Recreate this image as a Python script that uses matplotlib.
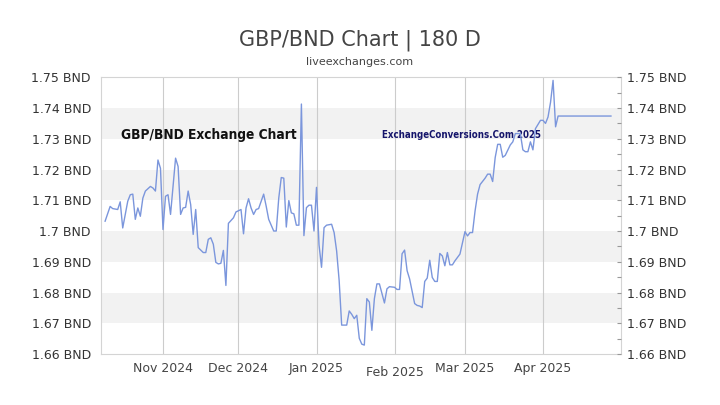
import matplotlib
matplotlib.use('Agg')
import matplotlib.pyplot as plt
import matplotlib.dates as mdates
from matplotlib.ticker import MultipleLocator, FuncFormatter
from matplotlib import font_manager
import pandas as pd

# GBP/BND daily rates (weekend points repeat)
dates = [
    '2024-10-09', '2024-10-11', '2024-10-12', '2024-10-14', '2024-10-15', '2024-10-16',
    '2024-10-18', '2024-10-19', '2024-10-20', '2024-10-21', '2024-10-22', '2024-10-23',
    '2024-10-24', '2024-10-25', '2024-10-27', '2024-10-28', '2024-10-29', '2024-10-30',
    '2024-10-31', '2024-11-01', '2024-11-02', '2024-11-03', '2024-11-04', '2024-11-06',
    '2024-11-07', '2024-11-08', '2024-11-09', '2024-11-10', '2024-11-11', '2024-11-12',
    '2024-11-13', '2024-11-14', '2024-11-15', '2024-11-17', '2024-11-18', '2024-11-19',
    '2024-11-20', '2024-11-21', '2024-11-22', '2024-11-23', '2024-11-24', '2024-11-25',
    '2024-11-26', '2024-11-27', '2024-11-29', '2024-11-30', '2024-12-02', '2024-12-03',
    '2024-12-04', '2024-12-05', '2024-12-06', '2024-12-07', '2024-12-08', '2024-12-09',
    '2024-12-11', '2024-12-12', '2024-12-13', '2024-12-15', '2024-12-16', '2024-12-17',
    '2024-12-18', '2024-12-19', '2024-12-20', '2024-12-21', '2024-12-22', '2024-12-23',
    '2024-12-24', '2024-12-25', '2024-12-26', '2024-12-27', '2024-12-28', '2024-12-29',
    '2024-12-30', '2024-12-31', '2025-01-01', '2025-01-02', '2025-01-03', '2025-01-04',
    '2025-01-05', '2025-01-07', '2025-01-08', '2025-01-09', '2025-01-10', '2025-01-11',
    '2025-01-12', '2025-01-13', '2025-01-14', '2025-01-15', '2025-01-16', '2025-01-17',
    '2025-01-18', '2025-01-19', '2025-01-20', '2025-01-21', '2025-01-22', '2025-01-23',
    '2025-01-24', '2025-01-25', '2025-01-26', '2025-01-28', '2025-01-29', '2025-01-30',
    '2025-02-01', '2025-02-02', '2025-02-03', '2025-02-04', '2025-02-05', '2025-02-06',
    '2025-02-07', '2025-02-09', '2025-02-10', '2025-02-11', '2025-02-12', '2025-02-13',
    '2025-02-14', '2025-02-15', '2025-02-16', '2025-02-17', '2025-02-18', '2025-02-19',
    '2025-02-20', '2025-02-21', '2025-02-22', '2025-02-23', '2025-02-24', '2025-02-25',
    '2025-02-27', '2025-02-28', '2025-03-01', '2025-03-02', '2025-03-03', '2025-03-04',
    '2025-03-05', '2025-03-06', '2025-03-07', '2025-03-09', '2025-03-10', '2025-03-11',
    '2025-03-12', '2025-03-13', '2025-03-14', '2025-03-15', '2025-03-16', '2025-03-17',
    '2025-03-19', '2025-03-20', '2025-03-21', '2025-03-23', '2025-03-24', '2025-03-25',
    '2025-03-26', '2025-03-27', '2025-03-28', '2025-03-29', '2025-03-31', '2025-04-01',
    '2025-04-02', '2025-04-03', '2025-04-04', '2025-04-05', '2025-04-06', '2025-04-07',
    '2025-04-28',
]
rates = [
    1.7032, 1.7080, 1.7073, 1.7070, 1.7095, 1.7010,
    1.7097, 1.7118, 1.7120, 1.7038, 1.7075, 1.7048,
    1.7107, 1.7130, 1.7145, 1.7140, 1.7130, 1.7231,
    1.7204, 1.7005, 1.7113, 1.7118, 1.7054, 1.7237,
    1.7210, 1.7054, 1.7075, 1.7077, 1.7130, 1.7086,
    1.6989, 1.7070, 1.6946, 1.6930, 1.6930, 1.6973,
    1.6978, 1.6957, 1.6898, 1.6893, 1.6895, 1.6937,
    1.6823, 1.7025, 1.7043, 1.7062, 1.7070, 1.6991,
    1.7075, 1.7105, 1.7075, 1.7054, 1.7070, 1.7073,
    1.7120, 1.7081, 1.7038, 1.7000, 1.7000, 1.7107,
    1.7174, 1.7172, 1.7013, 1.7099, 1.7059, 1.7056,
    1.7019, 1.7019, 1.7413, 1.6985, 1.7076, 1.7084,
    1.7084, 1.7000, 1.7142, 1.6955, 1.6882, 1.7011,
    1.7019, 1.7022, 1.6995, 1.6935, 1.6839, 1.6694,
    1.6694, 1.6694, 1.6740, 1.6729, 1.6715, 1.6726,
    1.6651, 1.6632, 1.6629, 1.6780, 1.6769, 1.6677,
    1.6780, 1.6828, 1.6828, 1.6766, 1.6812, 1.6819,
    1.6817, 1.6810, 1.6810, 1.6926, 1.6938, 1.6871,
    1.6844, 1.6764, 1.6758, 1.6756, 1.6751, 1.6836,
    1.6847, 1.6905, 1.6849, 1.6836, 1.6836, 1.6927,
    1.6919, 1.6887, 1.6930, 1.6890, 1.6890, 1.6903,
    1.6925, 1.6962, 1.6998, 1.6984, 1.6995, 1.6995,
    1.7065, 1.7120, 1.7151, 1.7172, 1.7185, 1.7185,
    1.7161, 1.7239, 1.7282, 1.7282, 1.7240, 1.7246,
    1.7280, 1.7290, 1.7317, 1.7317, 1.7264, 1.7258,
    1.7258, 1.7290, 1.7264, 1.7333, 1.7360, 1.7360,
    1.7350, 1.7371, 1.7419, 1.7490, 1.7339, 1.7374,
    1.7374,
]

month_ticks = ['2024-11-01', '2024-12-01', '2025-01-01', '2025-02-01', '2025-03-01', '2025-04-01']
y_min, y_max, y_step = 1.66, 1.75, 0.01

dates = pd.to_datetime(dates)
month_ticks = pd.to_datetime(month_ticks)

# look for a narrow/condensed face for the watermark texts
narrow_file = None
for f in font_manager.fontManager.ttflist:
    if ('Narrow' in f.name or 'Condensed' in f.name or 'condensed' in str(f.stretch)) \
            and 'Mono' not in f.name and 'Serif' not in f.name:
        narrow_file = f.fname
        if f.weight in ('bold', 700, 600, 'semibold', 'demibold'):
            break

if narrow_file:
    wm_font = font_manager.FontProperties(fname=narrow_file, weight='bold')
    wm_big, wm_small = 9.8, 6.9
else:
    wm_font = font_manager.FontProperties(family='DejaVu Sans', weight='bold')
    wm_big, wm_small = 9.0, 6.3

fig = plt.figure(figsize=(7.2, 4.05), dpi=100)
ax = fig.add_axes([100.7 / 720, 1 - 354 / 405, 520 / 720, 276.7 / 405])

ax.plot(dates, rates, color='#7b96dc', lw=1.0, zorder=3)

ax.set_ylim(y_min, y_max)
ax.set_xlim(pd.Timestamp('2024-10-07 06:00'), pd.Timestamp('2025-05-01 21:00'))

# alternating grey bands
for i in range(9):
    lo = y_min + i * y_step
    if i % 2 == 1:
        ax.axhspan(lo, lo + y_step, color='#f2f2f2', lw=0, zorder=0)

ax.set_xticks(month_ticks)
ax.xaxis.set_major_formatter(mdates.DateFormatter('%b %Y'))
ax.grid(axis='x', color='#cccccc', lw=0.8)
ax.set_axisbelow(True)
ax.tick_params(axis='x', length=0, pad=6, labelsize=9, labelcolor='#444444')
ax.xaxis.get_major_ticks()[3].set_pad(9)

fmt = FuncFormatter(lambda v, p: f'{round(v, 2):g} BND')
ax.yaxis.set_major_locator(MultipleLocator(y_step))
ax.yaxis.set_major_formatter(fmt)
ax.tick_params(axis='y', length=0, pad=7, labelsize=9, labelcolor='#333333')

for s in ax.spines.values():
    s.set_color('#d4d4d4')
    s.set_linewidth(0.8)

ax2 = ax.twinx()
ax2.set_ylim(y_min, y_max)
ax2.yaxis.set_major_locator(MultipleLocator(y_step))
ax2.yaxis.set_minor_locator(MultipleLocator(y_step / 2))
ax2.yaxis.set_major_formatter(fmt)
ax2.tick_params(axis='y', which='both', direction='in', length=3, width=0.8,
                color='#999999', pad=4.5, labelsize=9, labelcolor='#333333')
for s in ax2.spines.values():
    s.set_visible(False)

ax.text(0.039, 0.791, 'GBP/BND Exchange Chart', transform=ax.transAxes,
        fontproperties=wm_font, fontsize=wm_big, color='#111111',
        va='center', ha='left', zorder=2)
ax.text(0.541, 0.791, 'ExchangeConversions.Com 2025', transform=ax.transAxes,
        fontproperties=wm_font, fontsize=wm_small, color='#15156b',
        va='center', ha='left', zorder=2)

fig.text(0.5, 1 - 40 / 405, 'GBP/BND Chart | 180 D', ha='center', va='center',
         fontsize=15, color='#444444')
fig.text(0.5, 1 - 62 / 405, 'liveexchanges.com', ha='center', va='center',
         fontsize=8, color='#444444')

fig.savefig('out.png', dpi=100)
